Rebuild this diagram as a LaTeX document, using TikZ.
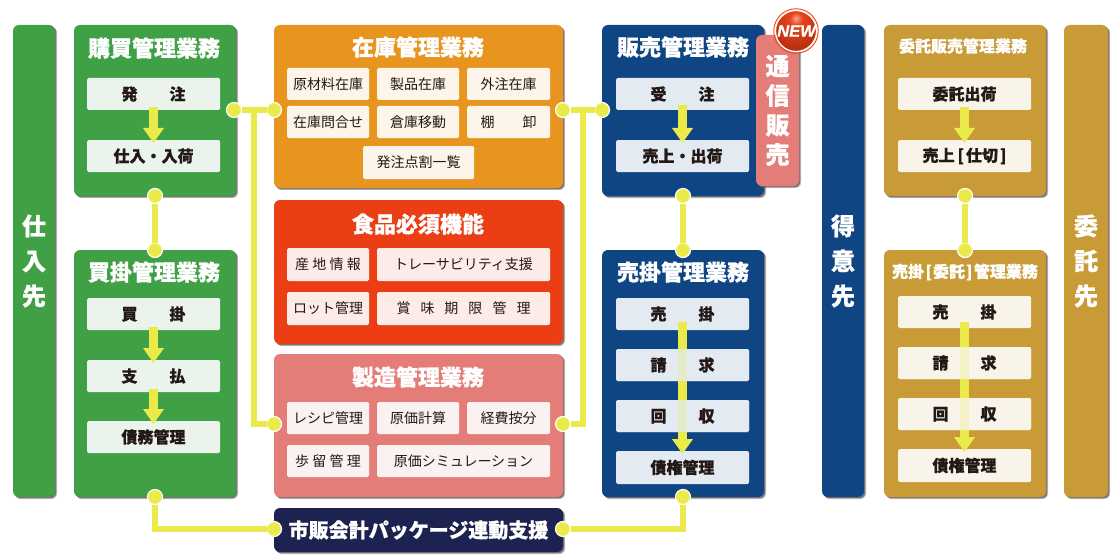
\documentclass[tikz,border=0pt]{standalone}
\usepackage{fontspec}
\usetikzlibrary{arrows.meta,shadows}
\setmainfont{Noto Sans CJK JP}
\newfontfamily\heavyjp{Noto Sans CJK JP}[BoldFeatures={FakeBold=0.7}]
\newfontfamily\latinnew{Liberation Sans}[BoldItalicFeatures={FakeBold=0.8}]
\definecolor{cgreen}{HTML}{40A045}
\definecolor{corange}{HTML}{E89520}
\definecolor{cred}{HTML}{EC3E15}
\definecolor{cpink}{HTML}{E47D78}
\definecolor{cnavy}{HTML}{0F4583}
\definecolor{cdark}{HTML}{1C2350}
\definecolor{cgold}{HTML}{C89B36}
\definecolor{cyel}{HTML}{EAEA4A}
\definecolor{tgreen}{HTML}{EAF3EC}
\definecolor{torange}{HTML}{FDF5E9}
\definecolor{tred}{HTML}{FDEBE7}
\definecolor{tpink}{HTML}{FBF1F0}
\definecolor{tblue}{HTML}{E3EAF1}
\definecolor{tgold}{HTML}{F8F4EA}
\definecolor{ink}{HTML}{231815}
\definecolor{shadowc}{HTML}{6A6060}
\definecolor{nb0}{HTML}{F2A58A}
\definecolor{nb1}{HTML}{E5431C}
\definecolor{nb2}{HTML}{BC3210}
\definecolor{nb3}{HTML}{8E2410}
\pgfdeclareradialshading{newball}{\pgfpoint{0bp}{16bp}}{color(0bp)=(nb0); color(8bp)=(nb1); color(30bp)=(nb2); color(55bp)=(nb3); color(100bp)=(nb3)}
\newcommand{\gp}{\hspace{3.3pt}}
\newcommand{\gw}{\hspace{10pt}}
\tikzset{
  x=1pt,y=-1pt,
  rectspan/.style n args={4}{minimum width={(#3-#1)*1pt},minimum height={(#4-#2)*1pt},at={({(#1+#3)/2},{(#2+#4)/2})}},
  panel/.style={fill=#1,rounded corners=6pt,inner sep=0pt,outer sep=0pt,
    general shadow={shadow xshift=2.2pt,shadow yshift=-2.2pt,fill=shadowc,opacity=.35,rounded corners=6pt},
    general shadow={shadow xshift=1.4pt,shadow yshift=-1.4pt,fill=shadowc,opacity=.8,rounded corners=6pt}},
  subbox/.style={fill=#1,rounded corners=1.5pt,inner sep=0pt,outer sep=0pt,text=ink,font=\fontsize{14}{14}\selectfont},
  boldbox/.style={subbox=#1,font=\fontsize{16}{16}\selectfont\heavyjp\bfseries},
  overlay box/.style={fill=#1,fill opacity=.78,text opacity=1,rounded corners=1.5pt,inner sep=0pt,outer sep=0pt,text=ink,font=\fontsize{16}{16}\selectfont\heavyjp\bfseries},
  ptitle/.style={text=white,inner sep=0pt,font=\fontsize{22}{22}\selectfont\heavyjp\bfseries},
  stitle/.style={text=white,inner sep=0pt,font=\fontsize{16}{16}\selectfont\heavyjp\bfseries},
  sidetext/.style={text=white,inner sep=0pt,align=center,font=\fontsize{24}{35}\selectfont\heavyjp\bfseries},
  dot/.style={circle,fill=cyel,draw=white,line width=1.2pt,minimum size=15pt,inner sep=0pt,outer sep=0pt},
  link/.style={draw=cyel,line width=5.5pt},
  blockarrow/.style={draw=cyel,line width=8.5pt,-{Triangle[width=20pt,length=15pt,fill=cyel]},shorten <=-3pt,shorten >=-3pt},
}
\begin{document}
\begin{tikzpicture}
\useasboundingbox (0,0) rectangle (1118,559);
% side bars
\node (shiire) [panel=cgreen,rectspan={13}{25}{55}{497},sidetext] {仕\\入\\先};
\node (tokui) [panel=cnavy,rectspan={822}{25}{864}{497},sidetext] {得\\意\\先};
\node (itakusaki) [panel=cgold,rectspan={1064}{25}{1108}{497},sidetext] {委\\託\\先};
% panels
\node (kobai) [panel=cgreen,rectspan={74}{25}{236}{196}] {};
\node (kaikake) [panel=cgreen,rectspan={74}{250}{236}{497}] {};
\node (zaiko) [panel=corange,rectspan={274}{25}{563}{188}] {};
\node (shokuhin) [panel=cred,rectspan={274}{200}{563}{344}] {};
\node (seizo) [panel=cpink,rectspan={274}{354}{563}{497}] {};
\node (ichihan) [panel=cdark,rectspan={274}{508}{563}{552},text=white,font=\fontsize{20}{20}\selectfont\heavyjp\bfseries] {市販会計パッケージ連動支援};
\node (hanbai) [panel=cnavy,rectspan={602}{25}{764}{196}] {};
\node (urikake) [panel=cnavy,rectspan={602}{250}{764}{497}] {};
\node (ihanbai) [panel=cgold,rectspan={884}{25}{1046}{196}] {};
\node (iurikake) [panel=cgold,rectspan={884}{250}{1046}{497}] {};
% titles
\node (t1) [ptitle] at (154,48) {購買管理業務};
\node (t2) [ptitle] at (154,272) {買掛管理業務};
\node (t3) [ptitle] at (418,47) {在庫管理業務};
\node (t4) [ptitle] at (418,224) {食品必須機能};
\node (t5) [ptitle] at (418,377) {製造管理業務};
\node (t6) [ptitle] at (683,47) {販売管理業務};
\node (t7) [ptitle] at (683,272) {売掛管理業務};
\node (t8) [stitle] at (963,46) {委託販売管理業務};
\node (t9) [stitle] at (965,272) {売掛\hspace{1.5pt}[\hspace{1pt}委託\hspace{1pt}]\hspace{1.5pt}管理業務};
% zaiko boxes
\node (z1) [subbox=torange,rectspan={287}{68}{369}{100}] {原材料在庫};
\node (z2) [subbox=torange,rectspan={377}{68}{459}{100}] {製品在庫};
\node (z3) [subbox=torange,rectspan={467}{68}{550}{100}] {外注在庫};
\node (z4) [subbox=torange,rectspan={287}{106}{369}{138}] {在庫問合せ};
\node (z5) [subbox=torange,rectspan={377}{106}{459}{138}] {倉庫移動};
\node (z6) [subbox=torange,rectspan={467}{106}{550}{138}] {棚　　卸};
\node (z7) [subbox=torange,rectspan={363}{146}{474}{179}] {発注点割一覧};
% shokuhin boxes
\node (f1) [subbox=tred,rectspan={287}{248}{369}{281}] {産\gp 地\gp 情\gp 報};
\node (f2) [subbox=tred,rectspan={377}{248}{550}{281}] {トレーサビリティ支援};
\node (f3) [subbox=tred,rectspan={287}{292}{369}{325}] {ロット管理};
\node (f4) [subbox=tred,rectspan={377}{292}{550}{325}] {賞\gw 味\gw 期\gw 限\gw 管\gw 理};
% seizo boxes
\node (m1) [subbox=tpink,rectspan={287}{402}{369}{434}] {レシピ管理};
\node (m2) [subbox=tpink,rectspan={377}{402}{459}{434}] {原価計算};
\node (m3) [subbox=tpink,rectspan={467}{402}{550}{434}] {経費按分};
\node (m4) [subbox=tpink,rectspan={287}{445}{369}{477}] {歩\gp 留\gp 管\gp 理};
\node (m5) [subbox=tpink,rectspan={377}{445}{550}{477}] {原価シミュレーション};
% kobai
\node (k1) [boldbox=tgreen,rectspan={87}{78}{220}{110}] {発　　注};
\node (k2) [boldbox=tgreen,rectspan={87}{140}{220}{172}] {仕入・入荷};
\draw[blockarrow] (k1.south) -- (k2.north);
% kaikake
\node (a1) [boldbox=tgreen,rectspan={87}{298}{220}{330}] {買　　掛};
\node (a2) [boldbox=tgreen,rectspan={87}{360}{220}{392}] {支　　払};
\node (a3) [boldbox=tgreen,rectspan={87}{421}{220}{453}] {債務管理};
\draw[blockarrow] (a1.south) -- (a2.north);
\draw[blockarrow] (a2.south) -- (a3.north);
% hanbai
\node (h1) [boldbox=tblue,rectspan={616}{78}{749}{110}] {受　　注};
\node (h2) [boldbox=tblue,rectspan={616}{140}{749}{172}] {売上・出荷};
\draw[blockarrow,shorten <=-5pt] (h1.south) -- (h2.north);
% urikake
\node (u1) [boldbox=tblue,rectspan={616}{298}{749}{330}] {売　　掛};
\node (u2b) [subbox=tblue,rectspan={616}{349}{749}{381}] {};
\node (u3b) [subbox=tblue,rectspan={616}{400}{749}{432}] {};
\node (u4) [boldbox=tblue,rectspan={616}{451}{749}{484}] {債権管理};
\draw[blockarrow,shorten <=-8pt] (u1.south) -- (u4.north);
\node (u2) [overlay box=tblue,rectspan={616}{349}{749}{381}] {請　　求};
\node (u3) [overlay box=tblue,rectspan={616}{400}{749}{432}] {回　　収};
% itaku hanbai
\node (i1) [boldbox=tgold,rectspan={898}{78}{1031}{110}] {委託出荷};
\node (i2) [boldbox=tgold,rectspan={898}{140}{1031}{172}] {売上\hspace{3pt}[\hspace{2pt}仕切\hspace{2pt}]};
\draw[blockarrow] (i1.south) -- (i2.north);
% itaku urikake
\node (j1) [boldbox=tgold,rectspan={898}{296}{1031}{328}] {売　　掛};
\node (j2b) [subbox=tgold,rectspan={898}{347}{1031}{379}] {};
\node (j3b) [subbox=tgold,rectspan={898}{398}{1031}{430}] {};
\node (j4) [boldbox=tgold,rectspan={898}{449}{1031}{482}] {債権管理};
\draw[blockarrow,shorten <=-6pt] (j1.south) -- (j4.north);
\node (j2) [overlay box=tgold,rectspan={898}{347}{1031}{379}] {請　　求};
\node (j3) [overlay box=tgold,rectspan={898}{398}{1031}{430}] {回　　収};
% mail order tab
\node (tsushin) [panel=cpink,rectspan={756}{35}{799}{186},text=white,align=center,inner sep=0pt,font=\fontsize{24}{29.5}\selectfont\heavyjp\bfseries] {\raisebox{2pt}{\parbox{30pt}{\centering 通\\信\\販\\売}}};
\coordinate (newc) at (796,31);
\node (newball) [circle,minimum size=41pt,inner sep=0pt,shading=newball,draw=white,line width=1.2pt] at (newc) {};
\node (newring) [circle,minimum size=44.5pt,inner sep=0pt,draw=cred!90!orange,line width=.9pt] at (newc) {};
\node (newt) [text=white,inner sep=0pt,font=\fontsize{16.5}{16.5}\selectfont\latinnew\bfseries\itshape] at (796.5,31) {NEW};
% connector anchors
\node (d1) [dot] at (234,110) {};
\node (d2) [dot] at (274,110) {};
\node (d3) [dot] at (274,424) {};
\node (d4) [dot] at (563,110) {};
\node (d5) [dot] at (602,110) {};
\node (d6) [dot] at (563,424) {};
\node (d7) [dot] at (155,196) {};
\node (d8) [dot] at (155,250) {};
\node (d9) [dot] at (683,196) {};
\node (d10) [dot] at (683,250) {};
\node (d11) [dot] at (965,196) {};
\node (d12) [dot] at (965,250) {};
\node (d13) [dot] at (155,497) {};
\node (d14) [dot] at (274,529) {};
\node (d15) [dot] at (563,529) {};
\node (d16) [dot] at (683,497) {};
\coordinate (jl) at (254,110);
\coordinate (jr) at (583,110);
% connectors
\draw[link] (d1.east) -- (d2.west);
\draw[link] (jl) -- (jl |- d3) -- (d3.west);
\draw[link] (d4.east) -- (d5.west);
\draw[link] (jr) -- (jr |- d6) -- (d6.east);
\draw[link] (d7.south) -- (d8.north);
\draw[link] (d9.south) -- (d10.north);
\draw[link] (d11.south) -- (d12.north);
\draw[link] (d13.south) -- (d13 |- d14) -- (d14.west);
\draw[link] (d15.east) -- (d16 |- d15) -- (d16.south);
\end{tikzpicture}
\end{document}
